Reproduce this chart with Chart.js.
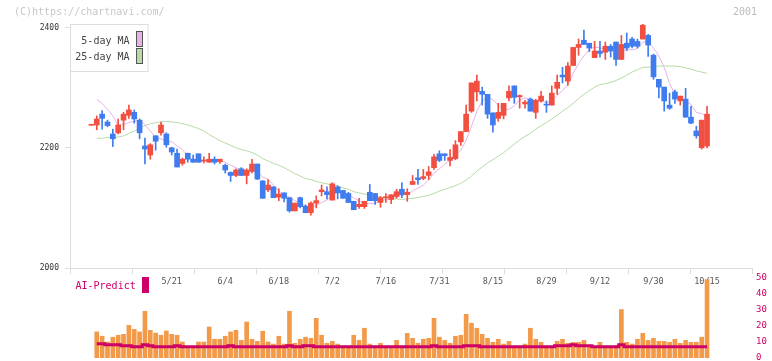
<!DOCTYPE html>
<html>
<head>
<meta charset="utf-8">
<script src="https://cdn.jsdelivr.net/npm/chart.js@4"></script>
<style>
  html, body { margin: 0; padding: 0; background: #fff; }
  #wrap { position: relative; width: 772px; height: 361px; }
  #wrap canvas { position: absolute; left: 0; top: 0; }
</style>
</head>
<body>
<div id="wrap">
  <canvas id="priceChart" width="772" height="361"></canvas>
  <canvas id="volumeChart" width="772" height="361"></canvas>
</div>
<script>
const MONO = '"DejaVu Sans Mono", "Liberation Mono", monospace';

// date labels (candle index + text)
const dateIndex = [15, 25, 35, 45, 55, 65, 75, 85, 95, 105, 115];
const dateLabels = ['5/21', '6/4', '6/18', '7/2', '7/16', '7/31', '8/15', '8/29', '9/12', '9/30', '10/15'];
const priceTicks = [2000, 2200, 2400];
const volumeTicks = [0, 10, 20, 30, 40, 50];

// daily candles
const opens = [
  2237.5, 2238, 2256, 2243, 2223, 2225, 2246, 2254, 2259, 2246,
  2203, 2188, 2220, 2225, 2223, 2200, 2191, 2174, 2191, 2181,
  2190, 2178, 2176, 2181, 2177, 2171, 2159, 2154, 2165, 2154,
  2161, 2173, 2145, 2130, 2135, 2118, 2125, 2117, 2095, 2117,
  2103, 2092, 2108, 2127, 2127, 2113, 2135, 2129, 2124, 2111,
  2102, 2102, 2126, 2124, 2109, 2117, 2114, 2119, 2131, 2122,
  2139, 2150, 2149, 2154, 2167, 2190, 2190, 2179, 2182, 2210,
  2227, 2261, 2293, 2294, 2289, 2258, 2249, 2254, 2283, 2303,
  2285, 2273, 2281, 2259, 2278, 2272, 2271, 2299, 2321, 2311,
  2337, 2367, 2379, 2374, 2350, 2361, 2359, 2369, 2376, 2347,
  2374, 2381, 2377, 2381, 2387, 2354, 2314, 2301, 2271, 2293,
  2278, 2281, 2251, 2228, 2200, 2203
];
const highs = [
  2238.5, 2253, 2262, 2246, 2231, 2248, 2259, 2271, 2263, 2248,
  2216, 2207, 2220, 2243, 2225, 2201, 2198, 2183, 2191, 2188,
  2190, 2185, 2191, 2185, 2181, 2173, 2160, 2165, 2167, 2165,
  2181, 2173, 2145, 2147, 2135, 2132, 2125, 2117, 2108, 2118,
  2105, 2110, 2120, 2138, 2135, 2142, 2137, 2129, 2126, 2111,
  2116, 2111, 2139, 2124, 2119, 2124, 2122, 2131, 2142, 2132,
  2154, 2164, 2164, 2169, 2189, 2195, 2190, 2197, 2212, 2227,
  2271, 2308, 2321, 2301, 2289, 2258, 2274, 2274, 2303, 2303,
  2288, 2279, 2283, 2281, 2294, 2278, 2303, 2321, 2334, 2342,
  2367, 2381, 2396, 2374, 2377, 2377, 2376, 2372, 2376, 2387,
  2391, 2384, 2381, 2406, 2389, 2356, 2314, 2301, 2291, 2296,
  2286, 2299, 2269, 2236, 2246, 2269
];
const lows = [
  2237.5, 2230, 2231, 2235, 2202, 2223, 2230, 2249, 2241, 2215,
  2173, 2181, 2196, 2221, 2201, 2188, 2168, 2171, 2176, 2176,
  2176, 2175, 2176, 2173, 2174, 2158, 2144, 2152, 2154, 2140,
  2158, 2147, 2116, 2127, 2117, 2112, 2110, 2093, 2095, 2100,
  2092, 2088, 2100, 2120, 2115, 2113, 2115, 2116, 2109, 2097,
  2099, 2099, 2112, 2106, 2101, 2109, 2107, 2116, 2117, 2111,
  2139, 2139, 2147, 2147, 2164, 2177, 2179, 2170, 2180, 2204,
  2227, 2259, 2278, 2271, 2249, 2226, 2244, 2248, 2278, 2274,
  2266, 2266, 2261, 2249, 2276, 2259, 2271, 2289, 2308, 2304,
  2337, 2354, 2372, 2360, 2350, 2351, 2347, 2351, 2337, 2347,
  2362, 2366, 2366, 2381, 2352, 2314, 2283, 2261, 2264, 2274,
  2271, 2251, 2240, 2216, 2198, 2200
];
const closes = [
  2238.5, 2248, 2249, 2237, 2215, 2238, 2256, 2263, 2248, 2225,
  2198, 2205, 2211, 2238, 2205, 2193, 2168, 2181, 2181, 2176,
  2176, 2179, 2181, 2176, 2181, 2163, 2154, 2163, 2154, 2163,
  2173, 2148, 2116, 2138, 2117, 2123, 2116, 2095, 2108, 2102,
  2092, 2108, 2112, 2130, 2122, 2140, 2125, 2116, 2109, 2097,
  2106, 2111, 2112, 2112, 2117, 2118, 2122, 2127, 2122, 2126,
  2144, 2147, 2152, 2160, 2185, 2179, 2187, 2184, 2205, 2227,
  2256, 2308, 2311, 2289, 2256, 2238, 2259, 2274, 2294, 2284,
  2287, 2276, 2261, 2279, 2286, 2271, 2291, 2309, 2318, 2336,
  2367, 2372, 2372, 2366, 2361, 2357, 2369, 2361, 2347, 2372,
  2366, 2369, 2369, 2404, 2371, 2318, 2301, 2278, 2266, 2281,
  2286, 2251, 2241, 2220, 2246, 2256
];

// moving averages
const ma5 = [
  null, 2280, 2274, 2264, 2253, 2237, 2239, 2242, 2244, 2246,
  2238, 2228, 2217, 2215, 2211, 2210, 2203, 2197, 2186, 2180,
  2176, 2179, 2179, 2178, 2179, 2176, 2171, 2167, 2163, 2159,
  2161, 2160, 2151, 2148, 2138, 2128, 2122, 2118, 2112, 2109,
  2103, 2101, 2104, 2109, 2113, 2122, 2126, 2127, 2122, 2117,
  2111, 2108, 2107, 2108, 2112, 2114, 2116, 2119, 2121, 2123,
  2128, 2133, 2138, 2146, 2158, 2165, 2173, 2179, 2188, 2196,
  2212, 2236, 2261, 2278, 2284, 2280, 2271, 2263, 2264, 2270,
  2280, 2283, 2280, 2277, 2278, 2275, 2278, 2287, 2295, 2305,
  2324, 2340, 2353, 2363, 2368, 2366, 2365, 2363, 2359, 2361,
  2363, 2363, 2365, 2376, 2376, 2366, 2353, 2334, 2307, 2289,
  2284, 2278, 2272, 2259, 2257, 2252
];
const ma25 = [
  null, 2216, 2216, 2217, 2217, 2218, 2220, 2224, 2228, 2233,
  2237, 2240, 2242, 2243, 2244, 2243, 2242, 2240, 2238, 2235,
  2232, 2228, 2222, 2217, 2212, 2208, 2204, 2200, 2197, 2195,
  2192, 2188, 2182, 2178, 2174, 2171, 2167, 2162, 2157, 2153,
  2149, 2147, 2144, 2142, 2140, 2138, 2136, 2133, 2131, 2127,
  2125, 2123, 2121, 2120, 2118, 2116, 2115, 2115, 2114, 2115,
  2116, 2117, 2119, 2121, 2124, 2128, 2131, 2134, 2137, 2141,
  2146, 2153, 2161, 2168, 2175, 2180, 2186, 2192, 2199, 2206,
  2213, 2219, 2224, 2231, 2237, 2242, 2248, 2254, 2261, 2267,
  2274, 2282, 2289, 2295, 2301, 2305, 2307, 2309, 2312, 2316,
  2321, 2326, 2330, 2334, 2334, 2335, 2336, 2336, 2336, 2336,
  2335, 2333, 2331, 2328, 2326, 2324
];

// volume and AI-Predict
const volume = [
  null, 16.3, 13.6, 10, 13, 14.2, 14.8, 20.4, 17.9, 16.3,
  29.2, 17.3, 15.6, 14.2, 16.9, 14.8, 14.2, 10, 7, 7,
  10, 10, 19.4, 11.7, 11.7, 13.6, 16.3, 17.3, 11, 22.5,
  11.7, 10.4, 16.7, 10, 8.7, 13.6, 8.7, 29.2, 9.2, 11.7,
  13, 12.3, 24.8, 14.2, 9.2, 10.4, 8.7, 7.5, 7.5, 14.2,
  11, 18.6, 8.7, 7.5, 9.2, 7.5, 7, 11, 7, 15.4,
  12.3, 9.2, 11.7, 12.3, 24.8, 13, 11, 9.2, 13.6, 14.2,
  27.3, 21.7, 18.6, 14.8, 12.3, 9.8, 11.7, 8.7, 10.4, 7.3,
  7.3, 8.7, 18.6, 11.7, 9.8, 7.3, 7.3, 10.4, 11.7, 9.2,
  9.8, 9.8, 11, 7.3, 7.3, 9.8, 7.3, 7.3, 7.8, 30.3,
  9.8, 8.7, 11.7, 15.4, 11, 12.3, 10.4, 10.4, 9.8, 11.7,
  9.2, 11, 9.8, 9.8, 13, 49
];
const aiPredict = [
  null, 8.9, 8.9, 8.3, 8.3, 8.3, 7.7, 7.7, 7, 7,
  8.3, 7.7, 7, 7, 7, 7, 7.7, 7, 7, 7,
  7, 7, 7, 7, 7, 7, 7.7, 7, 7, 7,
  7, 7, 7, 7, 7, 7, 7, 7.7, 7, 7,
  7.7, 7.7, 7, 7, 7, 7, 7, 7, 7, 7,
  7, 7, 7, 7, 7, 7, 7, 7, 7, 7,
  7, 7, 7, 7, 7.7, 7, 7, 7, 7, 7,
  7.7, 7.7, 7.7, 7, 7, 7, 7, 7, 7, 7,
  7, 7, 7, 7, 7, 7, 7, 7.7, 7.7, 7.7,
  8.3, 7.7, 7.7, 7.7, 7, 7, 7, 7, 7, 8.3,
  7, 7, 7, 7, 7, 7, 7, 7, 7, 7,
  7, 7, 7, 7, 7, 7
];

const RED = '#f24f40';
const BLUE = '#3f7cf0';
const PINK = '#e8b2e8';
const GREEN = '#b6dba6';
const ORANGE = '#f3994a';
const MAGENTA = '#cc0066';
const AXIS = '#dddddd';

const X_MIN = -4, X_MAX = 123.4;
// 11 equal tick intervals along the bottom axis
const tickMarks = [];
for (let k = 0; k <= 11; k++) tickMarks.push(X_MIN + k * (X_MAX - X_MIN) / 11);

const pts = arr => arr.map((v, i) => ({ x: i, y: v }));
const candleColors = closes.map((c, i) => c >= opens[i] ? RED : BLUE);

// texts drawn on the price canvas
const pageText = {
  id: 'pageText',
  afterDraw(chart) {
    const ctx = chart.ctx;
    ctx.save();
    ctx.font = '10px ' + MONO;
    ctx.textBaseline = 'middle';
    ctx.fillStyle = '#c8c8c8';
    ctx.textAlign = 'left';
    ctx.fillText('(C)https://chartnavi.com/', 14, 12.5);
    ctx.fillStyle = '#bbbbbb';
    ctx.textAlign = 'right';
    ctx.fillText('2001', 757, 12.5);

    // legend box
    ctx.fillStyle = '#ffffff';
    ctx.fillRect(70.5, 24.5, 77.5, 47);
    ctx.strokeStyle = AXIS;
    ctx.lineWidth = 1;
    ctx.strokeRect(70.5, 24.5, 77.5, 47);
    ctx.fillStyle = '#444444';
    ctx.textAlign = 'right';
    ctx.fillText('5-day MA', 129.5, 41);
    ctx.fillText('25-day MA', 129.5, 57);
    ctx.strokeStyle = '#555555';
    ctx.fillStyle = PINK;
    ctx.fillRect(136.5, 31.5, 6, 15);
    ctx.strokeRect(136.5, 31.5, 6, 15);
    ctx.fillStyle = GREEN;
    ctx.fillRect(136.5, 48.5, 6, 15);
    ctx.strokeRect(136.5, 48.5, 6, 15);
    ctx.restore();
  }
};

const aiLabel = {
  id: 'aiLabel',
  afterDraw(chart) {
    const ctx = chart.ctx;
    ctx.save();
    ctx.font = '10px ' + MONO;
    ctx.textBaseline = 'middle';
    ctx.textAlign = 'left';
    ctx.fillStyle = MAGENTA;
    ctx.fillText('AI-Predict', 75.5, 286);
    ctx.fillRect(142, 277, 7, 16);
    ctx.restore();
  }
};

new Chart(document.getElementById('priceChart'), {
  data: {
    datasets: [
      {
        type: 'bar', data: closes.map((c, i) => ({ x: i, y: [opens[i], c] })),
        backgroundColor: candleColors, barThickness: 5, grouped: false, minBarLength: 1, order: 0
      },
      {
        type: 'bar', data: closes.map((c, i) => ({ x: i, y: [lows[i], highs[i]] })),
        backgroundColor: candleColors, barThickness: 1, grouped: false, minBarLength: 1, order: 1
      },
      {
        type: 'line', data: pts(ma5), borderColor: PINK, borderWidth: 1,
        pointRadius: 0, tension: 0, order: 2
      },
      {
        type: 'line', data: pts(ma25), borderColor: GREEN, borderWidth: 1,
        pointRadius: 0, tension: 0, order: 3
      }
    ]
  },
  options: {
    animation: false,
    responsive: false,
    events: [],
    layout: { padding: { top: 24, right: 20, left: 0, bottom: 0 } },
    plugins: { legend: { display: false }, tooltip: { enabled: false } },
    scales: {
      x: {
        type: 'linear', min: X_MIN, max: X_MAX, position: 'bottom', weight: 0, offset: false,
        afterBuildTicks: s => { s.ticks = tickMarks.map(v => ({ value: v })); },
        ticks: { display: false },
        grid: { drawOnChartArea: false, tickLength: 6, color: AXIS, offset: false },
        border: { color: AXIS },
        afterFit: s => { s.height = 6; }
      },
      xd: {
        type: 'linear', min: X_MIN, max: X_MAX, position: 'bottom', weight: 1, offset: false,
        afterBuildTicks: s => { s.ticks = dateIndex.map(v => ({ value: v })); },
        ticks: {
          callback: (v, i) => dateLabels[i],
          font: { family: MONO, size: 8.5 }, color: '#555555',
          padding: 3, maxRotation: 0, autoSkip: false
        },
        grid: { display: false, drawTicks: false },
        border: { display: false },
        afterFit: s => { s.height = 87; }
      },
      y: {
        type: 'linear', min: 2000, max: 2406, position: 'left',
        afterBuildTicks: s => { s.ticks = priceTicks.map(v => ({ value: v })); },
        ticks: { font: { family: MONO, size: 8 }, color: '#333333', padding: 6, callback: v => String(v) },
        grid: { drawOnChartArea: false, tickLength: 5, color: AXIS },
        border: { color: AXIS },
        afterFit: s => { s.width = 70; }
      }
    }
  },
  plugins: [pageText]
});

new Chart(document.getElementById('volumeChart'), {
  data: {
    datasets: [
      {
        type: 'line', data: pts(aiPredict), yAxisID: 'v', borderColor: MAGENTA, borderWidth: 3,
        stepped: 'middle', pointRadius: 0, order: 0
      },
      {
        type: 'bar', data: pts(volume), yAxisID: 'v', backgroundColor: ORANGE,
        barThickness: 4, grouped: false, order: 1
      }
    ]
  },
  options: {
    animation: false,
    responsive: false,
    events: [],
    layout: { padding: { top: 278, right: 0, left: 70, bottom: 3 } },
    plugins: { legend: { display: false }, tooltip: { enabled: false } },
    scales: {
      x: { type: 'linear', min: X_MIN, max: X_MAX, display: false, offset: false },
      v: {
        type: 'linear', position: 'right', min: 0, max: 50,
        afterBuildTicks: s => { s.ticks = volumeTicks.map(v => ({ value: v })); },
        ticks: { font: { family: MONO, size: 9 }, color: MAGENTA, padding: 4 },
        grid: { display: false, drawTicks: false },
        border: { display: false },
        afterFit: s => { s.width = 20; s.paddingTop = 0; s.paddingBottom = 0; }
      }
    }
  },
  plugins: [aiLabel]
});
</script>
</body>
</html>
